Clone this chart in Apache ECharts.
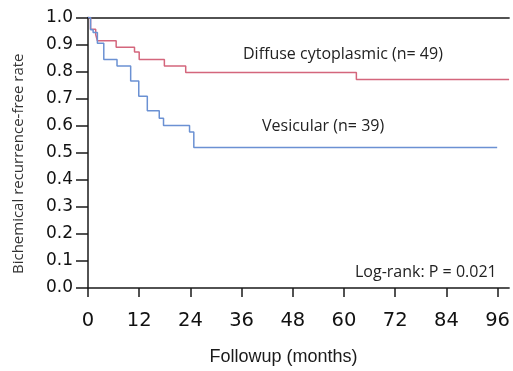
<!DOCTYPE html>
<html>
<head>
<meta charset="utf-8">
<script src="https://cdn.jsdelivr.net/npm/echarts@6/dist/echarts.min.js"></script>
<style>
html,body{margin:0;padding:0;background:#fff;}
#chart{width:513px;height:371px;}
</style>
</head>
<body>
<div id="chart"></div>
<script>
// Kaplan-Meier step data: [month, survival after that month]
const diffuseData = [
  [0, 1.0], [0.6, 0.957], [1.8, 0.937], [2.2, 0.914], [6.6, 0.89], [10.9, 0.872],
  [12.0, 0.845], [17.9, 0.821], [22.9, 0.797], [62.9, 0.771], [98.7, 0.771]
];
const vesicularData = [
  [0, 1.0], [0.6, 0.955], [1.2, 0.945], [2.2, 0.905], [3.7, 0.845], [6.8, 0.821],
  [10.0, 0.765], [11.9, 0.709], [13.9, 0.655], [16.7, 0.628], [17.7, 0.601],
  [23.8, 0.577], [24.8, 0.519], [95.9, 0.519]
];
const xTicks = [0, 12, 24, 36, 48, 60, 72, 84, 96];
const xMax = 98.7;
const labelDiffuse = 'Diffuse cytoplasmic (n= 49)';
const labelVesicular = 'Vesicular (n= 39)';
const labelLogRank = 'Log-rank: P = 0.021';

const chart = echarts.init(document.getElementById('chart'), null, {renderer: 'canvas'});
const axisCol = '#1a1a1a';
const option = {
  animation: false,
  backgroundColor: '#fff',
  grid: {left: 88, right: 0, top: 17.5, bottom: 73.5, containLabel: false},
  xAxis: [{
    type: 'value', min: 0, max: xMax, interval: 12,
    name: 'Followup (months)', nameLocation: 'middle', nameGap: 60,
    nameTextStyle: {fontFamily: 'Liberation Sans', fontSize: 18, color: '#1a1a1a', padding: [0, 30, 0, 0]},
    axisLine: {show: true, onZero: false, lineStyle: {color: axisCol, width: 1.5}},
    axisTick: {show: true, length: 9, inside: false, customValues: xTicks, lineStyle: {color: axisCol, width: 1.5}},
    axisLabel: {show: true, customValues: xTicks, margin: 23, fontFamily: 'DejaVu Sans', fontSize: 19.5, color: '#111'},
    splitLine: {show: false}
  }, {
    type: 'value', min: 0, max: xMax, position: 'top',
    axisLine: {show: true, onZero: false, lineStyle: {color: axisCol, width: 1.5}},
    axisTick: {show: false}, axisLabel: {show: false}, splitLine: {show: false}
  }],
  yAxis: {
    type: 'value', min: 0, max: 1, interval: 0.1,
    name: 'Bichemical recurrence-free rate', nameLocation: 'middle', nameGap: 62,
    nameTextStyle: {fontFamily: 'Open Sans', fontSize: 15, color: '#333', padding: [0, 22, 0, 0]},
    axisLine: {show: true, onZero: false, lineStyle: {color: axisCol, width: 1.5}},
    axisTick: {show: true, length: 12, lineStyle: {color: axisCol, width: 1.5}},
    axisLabel: {margin: 15, fontFamily: 'DejaVu Sans', fontSize: 17, color: '#111',
      formatter: v => v.toFixed(1)},
    splitLine: {show: false}
  },
  series: [{
    name: labelDiffuse, type: 'line', step: 'end', data: diffuseData,
    showSymbol: false, symbol: 'none', lineStyle: {color: '#d4667c', width: 1.5}, z: 3
  }, {
    name: labelVesicular, type: 'line', step: 'end', data: vesicularData,
    showSymbol: false, symbol: 'none', lineStyle: {color: '#6b91d3', width: 1.5}, z: 4
  }],
  graphic: [
    {type: 'text', left: 243, top: 46, style: {text: labelDiffuse, font: '16px "Open Sans"', fill: '#222'}},
    {type: 'text', left: 262, top: 118, style: {text: labelVesicular, font: '16px "Open Sans"', fill: '#222'}},
    {type: 'text', left: 355, top: 264, style: {text: labelLogRank, font: '16px "Open Sans"', fill: '#222'}}
  ]
};
chart.setOption(option);
</script>
</body>
</html>
